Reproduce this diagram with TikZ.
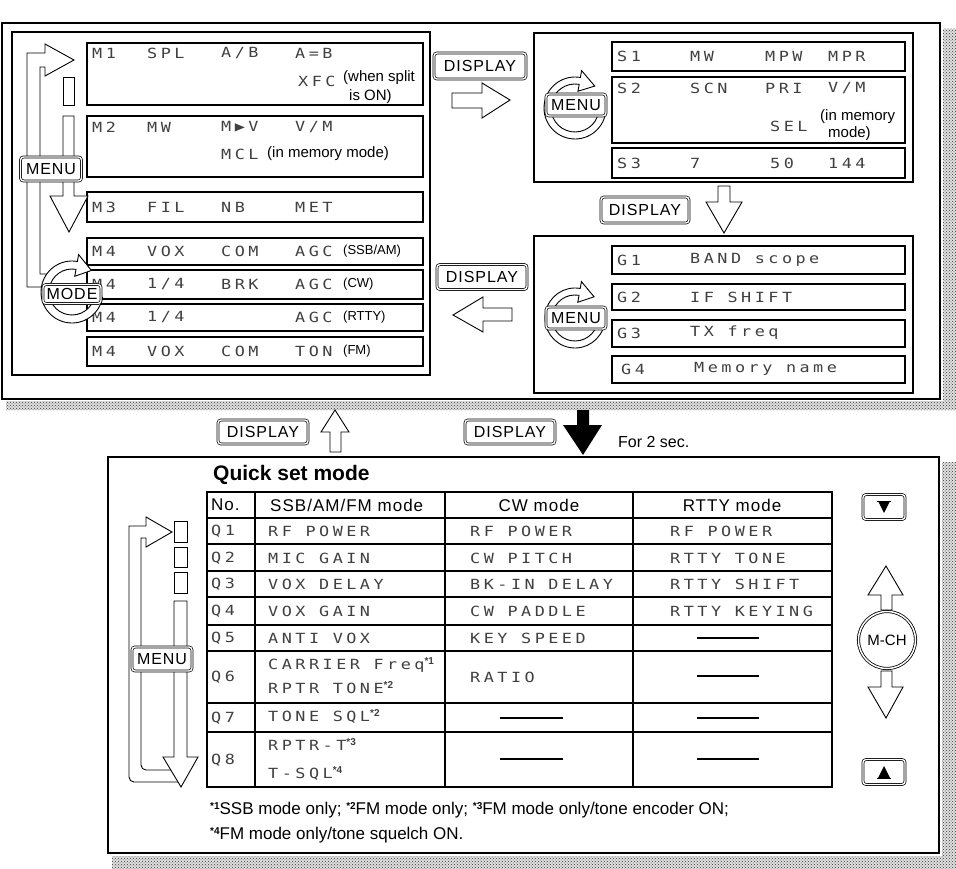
\documentclass[tikz,border=0pt]{standalone}
\usepackage{fontspec}
\setmainfont{Liberation Sans}
\newfontfamily\lcdfont[FakeStretch=1.2,LetterSpace=25]{DejaVu Sans Mono}
\newfontfamily\hdrfont[LetterSpace=6]{Liberation Sans}
\usetikzlibrary{patterns,calc}
\newcommand\supn[1]{\raisebox{5pt}{\fontsize{10}{10}\rmfamily\bfseries *#1}}
\newcommand\cycarrow[3]{%
  \draw[blockarrow] ($(#1)+(10:#2)$) arc[start angle=10,end angle=280,radius=#2]
    -- ($(#1)+(280:{#2+7})$) -- ($(#1)+(312:{(#2+#3)/2+2})$)
    -- ($(#1)+(280:{#3-7})$) -- ($(#1)+(280:#3)$)
    arc[start angle=280,end angle=10,radius=#3] -- cycle;}
\begin{document}
\begin{tikzpicture}[x=1pt,y=-1pt,
  frame/.style={draw, line width=1.2pt},
  lcd/.style={anchor=west, inner sep=0pt, text=black!75, font=\fontsize{14}{14}\lcdfont},
  note/.style={anchor=west, inner sep=0pt, font=\fontsize{15}{15}\selectfont},
  mnote/.style={anchor=west, inner sep=0pt, font=\fontsize{13}{13}\selectfont},
  hdr/.style={inner sep=0pt, font=\fontsize{17}{17}\hdrfont},
  foot/.style={anchor=west, inner sep=0pt, font=\fontsize{17}{17}\selectfont},
  btn/.style={draw, double, double distance=1.4pt, line width=0.7pt, rounded corners=3pt,
    fill=white, inner sep=0pt, font=\fontsize{16}{16}\hdrfont},
  blockarrow/.style={draw, line width=0.9pt, fill=white, line join=miter},
  pipe/.style={draw, line width=0.9pt},
  dashline/.style={draw, line width=1.2pt},
  shade/.style={fill=black!12, postaction={pattern=crosshatch dots, pattern color=black!80}}
]
\useasboundingbox (0,0) rectangle (956,869);

% ---------- top section ----------
\path[shade] (943,29) rectangle (956,410);
\path[shade] (6,401) rectangle (943,410);
\draw[frame, fill=white] (2,23) rectangle (940,399);
\draw[frame] (12,32) rectangle (430,375);
\draw[frame] (534,33) rectangle (913,182);
\draw[frame] (534,236) rectangle (913,393);

% left panel rows
\foreach \ya/\yb in {43/105,116/177,192/222,238/265,270/299,304/331,337/366}
  \draw[frame] (87,\ya) rectangle (423,\yb);
% right rows
\foreach \ya/\yb in {42/71,77/143,148/178,246/274,284/310,320/347,356/383}
  \draw[frame] (612,\ya) rectangle (905,\yb);

% M1
\node[lcd] (m1a) at (92,53) {M1};
\node[lcd] (m1b) at (147,53) {SPL};
\node[lcd] (m1c) at (221,53) {A/B};
\node[lcd] (m1d) at (295,53) {A=B};
\node[lcd] (m1e) at (298,81) {XFC};
\node[note] (m1f) at (343,78) {(when split};
\node[note] (m1g) at (349,97) {is ON)};
% M2
\node[lcd] (m2a) at (92,127) {M2};
\node[lcd] (m2b) at (147,127) {MW};
\node[lcd] (m2c) at (221,127) {M▶V};
\node[lcd] (m2d) at (295,127) {V/M};
\node[lcd] (m2e) at (221,154) {MCL};
\node[note] (m2f) at (267,154) {(in memory mode)};
% M3
\node[lcd] (m3a) at (92,207) {M3};
\node[lcd] (m3b) at (147,207) {FIL};
\node[lcd] (m3c) at (221,207) {NB};
\node[lcd] (m3d) at (295,207) {MET};
% M4 rows
\node[lcd] (m4a1) at (92,251) {M4};
\node[lcd] (m4a2) at (147,251) {VOX};
\node[lcd] (m4a3) at (221,251) {COM};
\node[lcd] (m4a4) at (295,251) {AGC};
\node[mnote] (m4a5) at (343,251) {(SSB/AM)};
\node[lcd] (m4b1) at (92,284) {M4};
\node[lcd] (m4b2) at (147,284) {1/4};
\node[lcd] (m4b3) at (221,284) {BRK};
\node[lcd] (m4b4) at (295,284) {AGC};
\node[mnote] (m4b5) at (343,284) {(CW)};
\node[lcd] (m4c1) at (92,317) {M4};
\node[lcd] (m4c2) at (147,317) {1/4};
\node[lcd] (m4c4) at (295,317) {AGC};
\node[mnote] (m4c5) at (343,317) {(RTTY)};
\node[lcd] (m4d1) at (92,351) {M4};
\node[lcd] (m4d2) at (147,351) {VOX};
\node[lcd] (m4d3) at (221,351) {COM};
\node[lcd] (m4d4) at (295,351) {TON};
\node[mnote] (m4d5) at (343,351) {(FM)};

% S rows
\node[lcd] (s1a) at (617,56) {S1};
\node[lcd] (s1b) at (690,56) {MW};
\node[lcd] (s1c) at (765,56) {MPW};
\node[lcd] (s1d) at (828,56) {MPR};
\node[lcd] (s2a) at (617,88) {S2};
\node[lcd] (s2b) at (690,88) {SCN};
\node[lcd] (s2c) at (765,88) {PRI};
\node[lcd] (s2d) at (828,88) {V/M};
\node[lcd] (s2e) at (770,126) {SEL};
\node[note] (s2f) at (820,117) {(in memory};
\node[note] (s2g) at (828,134) {mode)};
\node[lcd] (s3a) at (617,163) {S3};
\node[lcd] (s3b) at (690,163) {7};
\node[lcd] (s3c) at (770,163) {50};
\node[lcd] (s3d) at (828,163) {144};
% G rows
\node[lcd] (g1a) at (617,260) {G1};
\node[lcd] (g1b) at (690,260) {BAND scope};
\node[lcd] (g2a) at (617,297) {G2};
\node[lcd] (g2b) at (690,297) {IF SHIFT};
\node[lcd] (g3a) at (617,333) {G3};
\node[lcd] (g3b) at (690,333) {TX freq};
\node[lcd] (g4a) at (621,369) {G4};
\node[lcd] (g4b) at (694,369) {Memory name};

% top-left cycle pipes
\draw[pipe] (43,287) -- (27,287) -- (27,53) -- (45,53) -- (45,44) -- (74,60) -- (45,76)
  -- (45,67) -- (40,67) -- (40,274) -- (52,274);
\draw[pipe] (63,77) rectangle (74,105);
\draw[blockarrow] (63,196) -- (63,116) -- (74,116) -- (74,196) -- (88,196) -- (69,232) -- (50,196) -- cycle;
\node[btn, minimum width=61, minimum height=24] (menuTL) at (51,169) {MENU};
\coordinate (cTL) at (72,292);
\cycarrow{cTL}{31}{23}
\node[btn, minimum width=58, minimum height=19] (modeTL) at (72,294) {MODE};

% top-right / bottom-right menu cycles
\coordinate (cTR) at (575,108);
\cycarrow{cTR}{31}{24}
\node[btn, minimum width=60, minimum height=22] (menuTR) at (576,105) {MENU};
\coordinate (cBR) at (575,318);
\cycarrow{cBR}{30}{23}
\node[btn, minimum width=60, minimum height=22] (menuBR) at (576,318) {MENU};

% DISPLAY buttons and arrows (top)
\node[btn, minimum width=92, minimum height=26] (disp1) at (480,66) {DISPLAY};
\draw[blockarrow] (452,93) -- (482,93) -- (482,83) -- (510,100) -- (482,118) -- (482,108) -- (452,108) -- cycle;
\node[btn, minimum width=88, minimum height=26] (disp2) at (645,210) {DISPLAY};
\draw[blockarrow] (718,186) -- (730,186) -- (730,202) -- (742,202) -- (724,233) -- (706,202) -- (718,202) -- cycle;
\node[btn, minimum width=90, minimum height=25] (disp3) at (482,277) {DISPLAY};
\draw[blockarrow] (512,308) -- (483,308) -- (483,297) -- (453,315) -- (483,332) -- (483,321) -- (512,321) -- cycle;

% ---------- between sections ----------
\node[btn, minimum width=90, minimum height=24] (disp4) at (263,432) {DISPLAY};
\draw[blockarrow] (330,452) -- (330,432) -- (321,432) -- (335,410) -- (349,432) -- (341,432) -- (341,452) -- cycle;
\node[btn, minimum width=90, minimum height=24] (disp5) at (510,432) {DISPLAY};
\fill (577,410) -- (589,410) -- (589,425) -- (602,425) -- (583,455) -- (563,425) -- (577,425) -- cycle;
\node[anchor=west, inner sep=0pt, font=\fontsize{16}{16}\selectfont] (sec) at (618,442) {For 2 sec.};

% ---------- bottom section ----------
\path[shade] (942,462) rectangle (956,869);
\path[shade] (112,856) rectangle (942,869);
\draw[frame, fill=white] (108,457) rectangle (939,853);
\node[anchor=west, inner sep=0pt, font=\fontsize{21}{21}\selectfont\bfseries] (qsm) at (213,475) {Quick set mode};

% table
\draw[frame] (207,492) rectangle (832,787);
\foreach \xx in {255,445,633} \draw[frame] (\xx,492) -- (\xx,787);
\foreach \yy in {518,544,571,597,625,651,703,732} \draw[frame] (207,\yy) -- (832,\yy);
\node[hdr, anchor=west] (hno) at (211,505) {No.};
\node[hdr, anchor=west] (hssb) at (270,505) {SSB/AM/FM mode};
\node[hdr] (hcw) at (539,505) {CW mode};
\node[hdr] (hrt) at (732,505) {RTTY mode};

\node[lcd] (q1) at (211,531) {Q1};
\node[lcd] (q2) at (211,558) {Q2};
\node[lcd] (q3) at (211,584) {Q3};
\node[lcd] (q4) at (211,611) {Q4};
\node[lcd] (q5) at (211,638) {Q5};
\node[lcd] (q6) at (211,677) {Q6};
\node[lcd] (q7) at (211,718) {Q7};
\node[lcd] (q8) at (211,760) {Q8};

\node[lcd] (a1) at (268,531) {RF POWER};
\node[lcd] (a2) at (268,558) {MIC GAIN};
\node[lcd] (a3) at (268,584) {VOX DELAY};
\node[lcd] (a4) at (268,611) {VOX GAIN};
\node[lcd] (a5) at (268,638) {ANTI VOX};
\node[lcd] (a6) at (268,665) {CARRIER Freq\supn{1}};
\node[lcd] (a6b) at (268,688) {RPTR TONE\supn{2}};
\node[lcd] (a7) at (268,716) {TONE SQL\supn{2}};
\node[lcd] (a8) at (268,745) {RPTR-T\supn{3}};
\node[lcd] (a8b) at (268,773) {T-SQL\supn{4}};

\node[lcd] (b1) at (470,531) {RF POWER};
\node[lcd] (b2) at (470,558) {CW PITCH};
\node[lcd] (b3) at (470,584) {BK-IN DELAY};
\node[lcd] (b4) at (470,611) {CW PADDLE};
\node[lcd] (b5) at (470,638) {KEY SPEED};
\node[lcd] (b6) at (470,677) {RATIO};
\draw[dashline] (500,718) -- (563,718);
\draw[dashline] (500,759) -- (563,759);

\node[lcd] (c1) at (670,531) {RF POWER};
\node[lcd] (c2) at (670,558) {RTTY TONE};
\node[lcd] (c3) at (670,584) {RTTY SHIFT};
\node[lcd] (c4) at (670,611) {RTTY KEYING};
\foreach \yy in {638,676,718,759} \draw[dashline] (697,\yy) -- (759,\yy);

% bottom-left cycle
\draw[pipe] (178,782) -- (134,782) arc[start angle=90,end angle=180,radius=5] -- (129,526) -- (146,526)
  -- (146,517) -- (172,532) -- (146,547) -- (146,538) -- (141,538) -- (141,765)
  arc[start angle=180,end angle=90,radius=5] -- (171,770);
\draw[pipe] (174,521) rectangle (187,542);
\draw[pipe] (174,547) rectangle (187,567);
\draw[pipe] (174,572) rectangle (187,593);
\draw[blockarrow] (174,757) -- (174,601) -- (187,601) -- (187,757) -- (198,757) -- (181,787) -- (163,757) -- cycle;
\node[btn, minimum width=60, minimum height=24] (menuBL) at (162,659) {MENU};

% right-side controls
\node[btn, minimum width=42, minimum height=25] (qdn) at (884,507) {};
\draw[line width=1pt] (877,501) -- (891,501);
\fill (878,501) -- (890,501) -- (884,513) -- cycle;
\draw[blockarrow] (881,610) -- (881,595) -- (868,595) -- (886,566) -- (903,595) -- (892,595) -- (892,610) -- cycle;
\node[draw, circle, double, double distance=1.5pt, line width=0.8pt, minimum size=57, inner sep=0pt,
  fill=white, font=\fontsize{15}{15}\selectfont] (mch) at (887,640) {M-CH};
\draw[blockarrow] (881,671) -- (892,671) -- (892,687) -- (903,687) -- (886,718) -- (868,687) -- (881,687) -- cycle;
\node[btn, minimum width=42, minimum height=25] (qup) at (884,772) {};
\draw[line width=1pt] (877,778) -- (891,778);
\fill (878,778) -- (890,778) -- (884,766) -- cycle;

% footnotes
\node[foot] (fn1) at (210,810) {\supn{1}SSB mode only; \supn{2}FM mode only; \supn{3}FM mode only/tone encoder ON;};
\node[foot] (fn2) at (210,835) {\supn{4}FM mode only/tone squelch ON.};
\end{tikzpicture}
\end{document}
